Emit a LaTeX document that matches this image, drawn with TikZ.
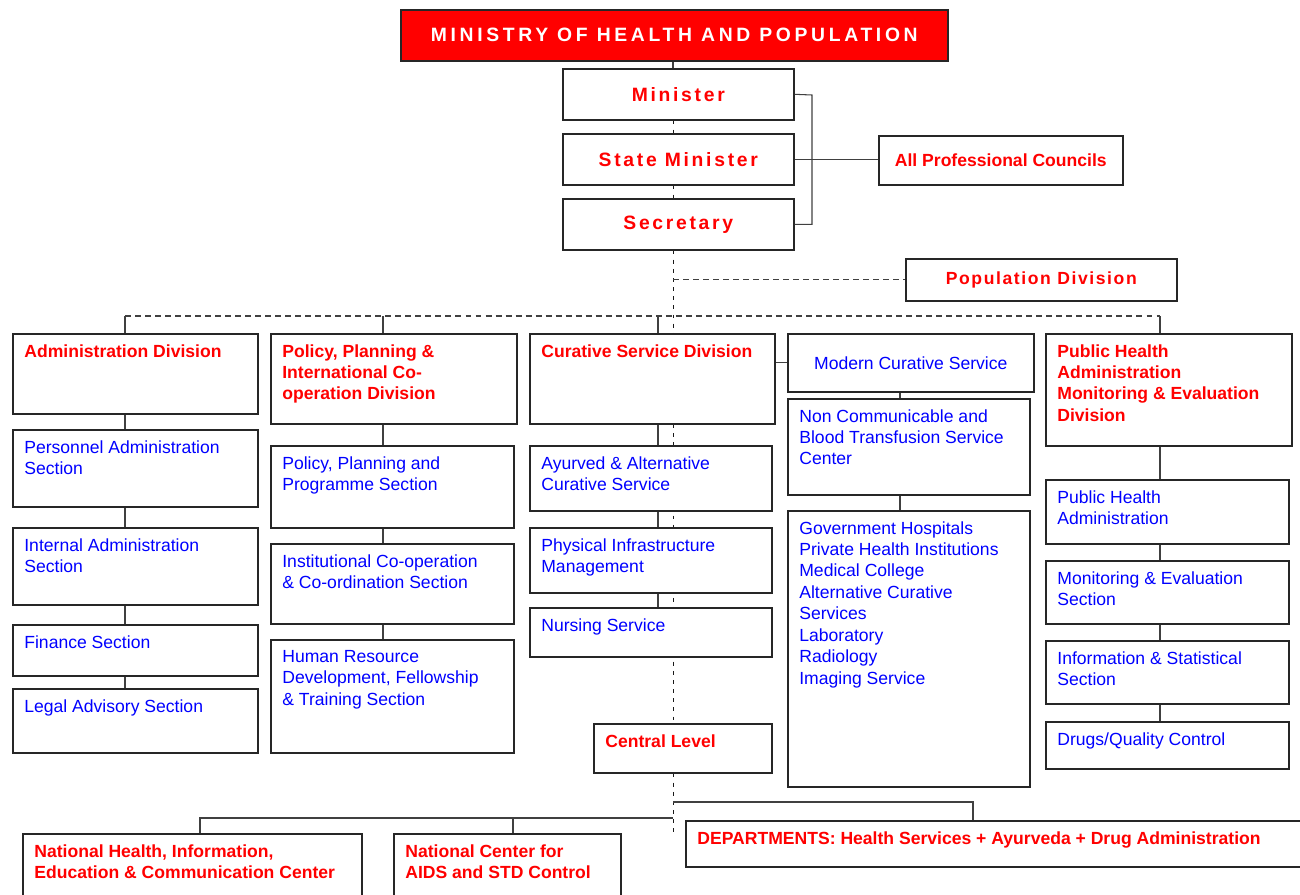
\documentclass[tikz,border=0pt]{standalone}
\usepackage{fontspec}
\setmainfont{Liberation Sans}
\newfontfamily\spacedfont[LetterSpace=14]{Liberation Sans}
\newfontfamily\titlefont[LetterSpace=19]{Liberation Sans}
\newfontfamily\popfont[LetterSpace=9]{Liberation Sans}
\usetikzlibrary{backgrounds}
\newcommand{\pxu}{0.02cm}
% boite d'une unite : nom, x, y (coin haut gauche), largeur, hauteur, style du texte, texte
\newcommand{\Unit}[7]{%
    \node[unitbox,minimum width=#4*\pxu,minimum height=#5*\pxu,
        label={[#6]north west:{#7}}] (#1) at (#2,#3) {} ;
}
\tikzset{
    unitbox/.style={draw=black!85,line width=0.9pt,fill=white,inner sep=0pt,anchor=north west},
    headbox/.style={unitbox,text=red,font=\spacedfont\bfseries\fontsize{11}{13}\selectfont},
    celltxt/.style={anchor=north west,inner sep=0pt,xshift=0.24cm,yshift=-0.22cm,align=left,
        font=\fontsize{10}{12.2}\selectfont},
    divtxt/.style={celltxt,text=red,font=\bfseries\fontsize{10}{12.2}\selectfont},
    sectxt/.style={celltxt,text=blue},
    link/.style={draw=black!75,line width=0.6pt},
    dashlink/.style={link,dash pattern=on 3.4pt off 2.3pt},
    dotlink/.style={draw=black!90,line width=0.5pt,dash pattern=on 2.2pt off 3pt}
}
\begin{document}
\begin{tikzpicture}[x=0.02cm,y=-0.02cm]
\useasboundingbox (0,0) rectangle (1300,894) ;

% sommet
\node[headbox,fill=red,text=white,font=\titlefont\bfseries\fontsize{11}{13}\selectfont,minimum width=547*\pxu,minimum height=51*\pxu] (ministry) at (400,9) {MINISTRY OF HEALTH AND POPULATION} ;
\node[headbox,minimum width=231*\pxu,minimum height=51*\pxu] (minister) at (562,68) {Minister} ;
\node[headbox,minimum width=231*\pxu,minimum height=51*\pxu] (stateminister) at (562,133) {State Minister} ;
\node[headbox,minimum width=231*\pxu,minimum height=51*\pxu] (secretary) at (562,198) {Secretary} ;
\node[unitbox,text=red,font=\bfseries\fontsize{10}{12}\selectfont,minimum width=244*\pxu,minimum height=49*\pxu] (councils) at (878,135) {All Professional Councils} ;
\node[unitbox,text=red,font=\popfont\bfseries\fontsize{10}{12}\selectfont,minimum width=271*\pxu,minimum height=42*\pxu] (popdiv) at (905,258) {Population Division} ;

% divisions
\Unit{admin}{12}{333}{245}{80}{divtxt}{Administration Division}
\Unit{policy}{270}{333}{246}{90}{divtxt}{Policy, Planning \&\\International Co-\\operation Division}
\Unit{curative}{529}{333}{245}{90}{divtxt}{Curative Service Division}
\Unit{phdiv}{1045}{333}{246}{112}{divtxt}{Public Health\\Administration\\Monitoring \& Evaluation\\Division}

% sections
\Unit{personnel}{12}{429}{245}{77}{sectxt}{Personnel Administration\\Section}
\Unit{internal}{12}{527}{245}{77}{sectxt}{Internal Administration\\Section}
\Unit{finance}{12}{624}{245}{51}{sectxt}{Finance Section}
\Unit{legal}{12}{688}{245}{64}{sectxt}{Legal Advisory Section}

\Unit{programme}{270}{445}{243}{82}{sectxt}{Policy, Planning and\\Programme Section}
\Unit{cooperation}{270}{543}{243}{80}{sectxt}{Institutional Co-operation\\\& Co-ordination Section}
\Unit{training}{270}{639}{243}{113}{sectxt}{Human Resource\\Development, Fellowship\\\& Training Section}

\Unit{ayurved}{529}{445}{242}{65}{sectxt}{Ayurved \& Alternative\\Curative Service}
\Unit{physical}{529}{527}{242}{65}{sectxt}{Physical Infrastructure\\Management}
\Unit{nursing}{529}{607}{242}{49}{sectxt}{Nursing Service}
\Unit{central}{593}{723}{178}{49}{divtxt}{Central Level}

\node[unitbox,text=blue,font=\fontsize{10}{12}\selectfont,minimum width=246*\pxu,minimum height=58*\pxu] (modern) at (787,333) {Modern Curative Service} ;
\Unit{noncomm}{787}{398}{242}{96}{sectxt}{Non Communicable and\\Blood Transfusion Service\\Center}
\Unit{hospitals}{787}{510}{242}{276}{sectxt}{Government Hospitals\\Private Health Institutions\\Medical College\\Alternative Curative\\Services\\Laboratory\\Radiology\\Imaging Service}

\Unit{phadmin}{1045}{479}{243}{64}{sectxt}{Public Health\\Administration}
\Unit{monitoring}{1045}{560}{243}{63}{sectxt}{Monitoring \& Evaluation\\Section}
\Unit{statistics}{1045}{640}{243}{63}{sectxt}{Information \& Statistical\\Section}
\Unit{drugs}{1045}{721}{243}{47}{sectxt}{Drugs/Quality Control}

% bas
\Unit{departments}{685}{820}{617}{46}{divtxt}{DEPARTMENTS: Health Services + Ayurveda + Drug Administration}
\Unit{nhiec}{22}{833}{339}{80}{divtxt}{National Health, Information,\\Education \& Communication Center}
\Unit{aids}{393}{833}{227}{80}{divtxt}{National Center for\\AIDS and STD Control}

% liaisons
\coordinate (spine) at (673,60) ;
\coordinate (bracket) at (812,95) ;
\coordinate (busL) at (125,316) ;
\coordinate (busR) at (1160,316) ;
\coordinate (colB) at (383,316) ;
\coordinate (colC) at (658,316) ;
\coordinate (colD) at (900,391) ;
\coordinate (spineEnd) at (673,832) ;
\coordinate (deptJ) at (673,802) ;
\coordinate (deptK) at (973,802) ;
\coordinate (natJ) at (673,818) ;
\coordinate (natA) at (200,818) ;
\coordinate (natB) at (513,818) ;

\begin{scope}[on background layer]
\draw[dotlink] (spine |- secretary.south) -- (spine |- central.north) ;
\end{scope}
\draw[link] (spine |- ministry.south) -- (spine |- minister.north) ;
\draw[dotlink] (spine |- minister.south) -- (spine |- stateminister.north) ;
\draw[dotlink] (spine |- stateminister.south) -- (spine |- secretary.north) ;
\draw[link] (minister.east) -- (bracket) -- (bracket |- secretary.east) -- (secretary.east) ;
\draw[link] (stateminister.east) -- (stateminister.east -| councils.west) ;
\draw[dashlink] (spine |- popdiv.west) -- (popdiv.west) ;

\draw[dashlink] (busL) -- (busR) ;
\draw[link] (busL) -- (busL |- admin.north) ;
\draw[link] (colB) -- (colB |- policy.north) ;
\draw[link] (colC) -- (colC |- curative.north) ;
\draw[link] (busR) -- (busR |- phdiv.north) ;

\foreach \a/\b in {admin/personnel,personnel/internal,internal/finance,finance/legal}
    \draw[link] (busL |- \a.south) -- (busL |- \b.north) ;
\foreach \a/\b in {policy/programme,programme/cooperation,cooperation/training}
    \draw[link] (colB |- \a.south) -- (colB |- \b.north) ;
\foreach \a/\b in {curative/ayurved,ayurved/physical,physical/nursing}
    \draw[link] (colC |- \a.south) -- (colC |- \b.north) ;
\foreach \a/\b in {modern/noncomm,noncomm/hospitals}
    \draw[link] (colD |- \a.south) -- (colD |- \b.north) ;
\foreach \a/\b in {phdiv/phadmin,phadmin/monitoring,monitoring/statistics,statistics/drugs}
    \draw[link] (busR |- \a.south) -- (busR |- \b.north) ;
\draw[link] (modern.west) -- (modern.west -| curative.east) ;

\draw[dotlink] (spine |- central.south) -- (spineEnd) ;
\draw[link] (deptJ) -- (deptK) -- (deptK |- departments.north) ;
\draw[link] (natJ) -- (natA) -- (natA |- nhiec.north) ;
\draw[link] (natB) -- (natB |- aids.north) ;

\end{tikzpicture}
\end{document}
